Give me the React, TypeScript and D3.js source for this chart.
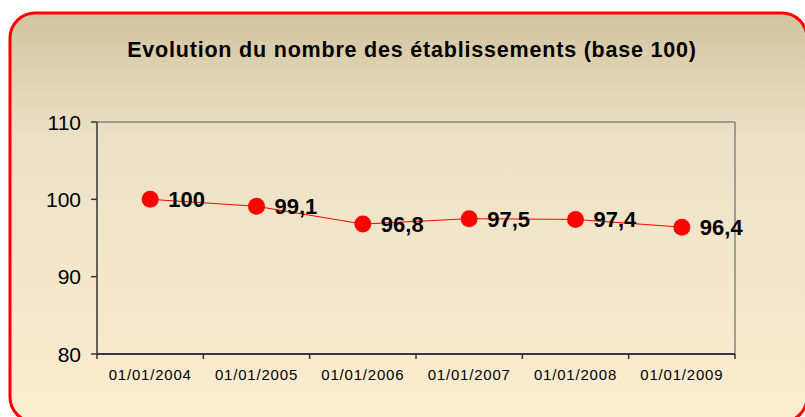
import React from "react";
import * as d3 from "d3";

const title = "Evolution du nombre des établissements (base 100)";
const dates = ["01/01/2004", "01/01/2005", "01/01/2006", "01/01/2007", "01/01/2008", "01/01/2009"];
const values = [100, 99.1, 96.8, 97.5, 97.4, 96.4];
const yTicks = [80, 90, 100, 110];

const W = 805;
const H = 417;
const plot = { left: 97, right: 735, top: 122, bottom: 354 };

export default function App() {
  const x = d3.scaleBand<string>().domain(dates).range([plot.left, plot.right]);
  const y = d3.scaleLinear().domain([80, 110]).range([plot.bottom, plot.top]);
  const cx = (d: string) => (x(d) ?? 0) + x.bandwidth() / 2;

  const line = d3
    .line<number>()
    .x((_, i) => cx(dates[i]))
    .y((v) => y(v));

  // tick positions on the category axis sit at band edges
  const edges = dates.map((d) => x(d) ?? 0).concat([plot.right]);

  const fmt = (v: number) => String(v).replace(".", ",");

  return (
    <svg
      width={W}
      height={H}
      style={{ position: "absolute", left: 0, top: 0, fontFamily: "'Liberation Sans', Arial, sans-serif" }}
    >
      <defs>
        <linearGradient id="bg" x1="0" y1="0" x2="0" y2="1">
          <stop offset="0%" stopColor="#d2c4a0" />
          <stop offset="30%" stopColor="#ebe1c6" />
          <stop offset="100%" stopColor="#fdedd1" />
        </linearGradient>
      </defs>
      <rect x={0} y={0} width={W} height={H} fill="#ffffff" />
      <rect x={10} y={13} width={797} height={409} rx={25} ry={25} fill="url(#bg)" stroke="#ff0000" strokeWidth={3} />

      <text x={412} y={57} textAnchor="middle" fontSize={21.5} fontWeight="bold" letterSpacing={0.8} fill="#000">
        {title}
      </text>

      {/* plot frame: top & right in grey, axes darker */}
      <line x1={plot.left} x2={plot.right} y1={plot.top} y2={plot.top} stroke="#858585" strokeWidth={1.5} />
      <line x1={plot.right} x2={plot.right} y1={plot.top} y2={plot.bottom} stroke="#858585" strokeWidth={1.5} />
      <line x1={plot.left} x2={plot.left} y1={plot.top} y2={plot.bottom} stroke="#333" strokeWidth={1.5} />
      <line x1={plot.left} x2={plot.right} y1={plot.bottom} y2={plot.bottom} stroke="#3a3a3a" strokeWidth={2} />

      {yTicks.map((t) => (
        <g key={t}>
          <line x1={plot.left - 6} x2={plot.left} y1={y(t)} y2={y(t)} stroke="#333" strokeWidth={1.5} />
          <text x={81} y={y(t)} dy="0.36em" textAnchor="end" fontSize={21} fill="#000">
            {t}
          </text>
        </g>
      ))}

      {edges.map((e, i) => (
        <line key={i} x1={e} x2={e} y1={plot.bottom} y2={plot.bottom + 5} stroke="#333" strokeWidth={1.5} />
      ))}
      {dates.map((d) => (
        <text key={d} x={cx(d)} y={380} textAnchor="middle" fontSize={15} letterSpacing={0.8} fill="#000">
          {d}
        </text>
      ))}

      <path d={line(values) ?? ""} fill="none" stroke="#ff0000" strokeWidth={1} />
      {values.map((v, i) => (
        <g key={i}>
          <circle cx={cx(dates[i])} cy={y(v)} r={8.5} fill="#ff0000" />
          <text x={cx(dates[i]) + 18} y={y(v)} dy="0.36em" fontSize={22} fontWeight="bold" fill="#000">
            {fmt(v)}
          </text>
        </g>
      ))}
    </svg>
  );
}
